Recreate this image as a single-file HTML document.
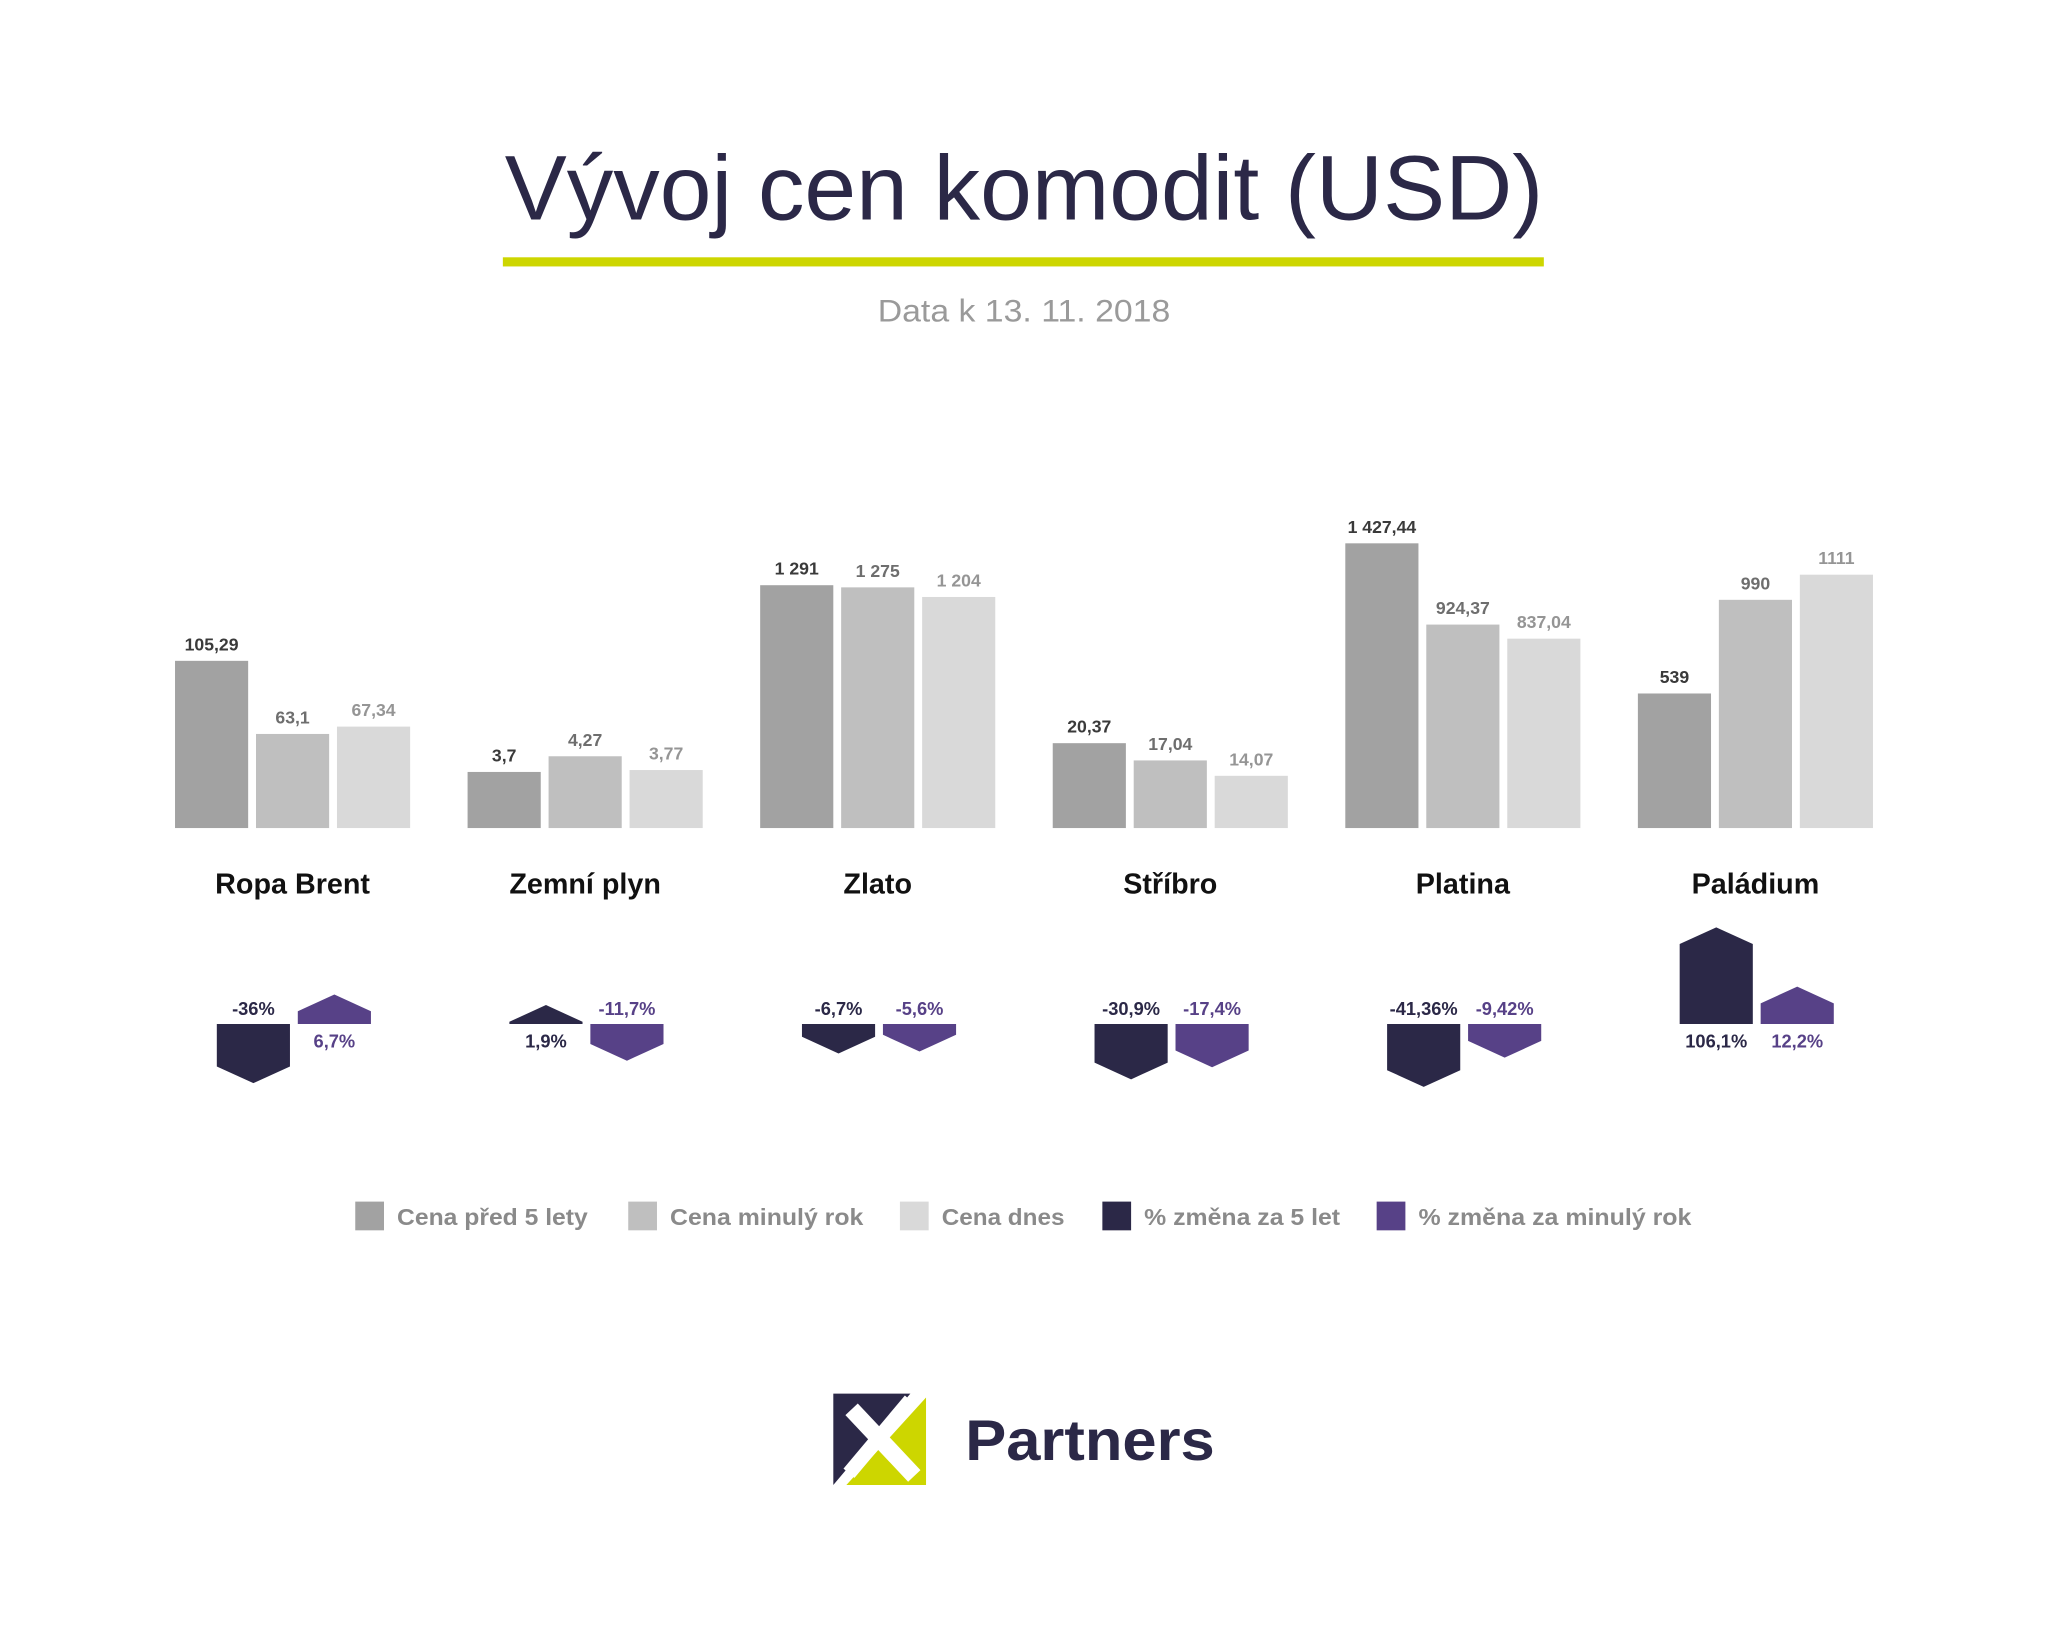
<!DOCTYPE html>
<html><head><meta charset="utf-8">
<style>
html,body{margin:0;padding:0;background:#fff;}
svg{display:block;font-family:"Liberation Sans","DejaVu Sans",sans-serif;}
</style></head>
<body>
<svg id="chart" width="2048" height="1630" viewBox="0 0 1568 1248" preserveAspectRatio="none" xmlns="http://www.w3.org/2000/svg">
<rect x="0" y="0" width="1568" height="1248" fill="#fff"/>
<text x="784" y="168" text-anchor="middle" font-size="70" fill="#2b2847" textLength="795" lengthAdjust="spacingAndGlyphs">Vývoj cen komodit (USD)</text>
<rect x="385" y="197" width="797" height="7" fill="#cdd600"/>
<text x="784" y="246" text-anchor="middle" font-size="24" fill="#9a9a9a" textLength="224" lengthAdjust="spacingAndGlyphs">Data k 13. 11. 2018</text>
<g id="bars"></g>
<g id="arrows"></g>
<g id="legend"></g>
<g>
  <rect x="638" y="1067" width="71" height="70" fill="#fff"/>
  <polygon points="638,1067 697,1067 638,1137" fill="#2b2847"/>
  <polygon points="709,1070 709,1137 648,1137" fill="#cdd600"/>
  <line x1="652" y1="1079" x2="700" y2="1130" stroke="#fff" stroke-width="13"/>
  <line x1="697" y1="1072" x2="650" y2="1128" stroke="#fff" stroke-width="11"/>
  <text x="739" y="1118" font-size="44" font-weight="bold" fill="#2b2847" textLength="191" lengthAdjust="spacingAndGlyphs">Partners</text>
</g>
</svg>
<script>
const categories = ["Ropa Brent","Zemní plyn","Zlato","Stříbro","Platina","Paládium"];
const price5y = [105.29, 3.7, 1291, 20.37, 1427.44, 539];
const priceLastYear = [63.1, 4.27, 1275, 17.04, 924.37, 990];
const priceToday = [67.34, 3.77, 1204, 14.07, 837.04, 1111];
const price5yLabels = ["105,29","3,7","1 291","20,37","1 427,44","539"];
const priceLastYearLabels = ["63,1","4,27","1 275","17,04","924,37","990"];
const priceTodayLabels = ["67,34","3,77","1 204","14,07","837,04","1111"];
const domainLow = [8.8, 1.66, -507, 3.99, -335.6, -109];
const domainHigh = [173.1, 12.01, 1601, 58.93, 1427.4, 1262];
const change5y = [-36, 1.9, -6.7, -30.9, -41.36, 106.1];
const changeYear = [6.7, -11.7, -5.6, -17.4, -9.42, 12.2];
const change5yLabels = ["-36%","1,9%","-6,7%","-30,9%","-41,36%","106,1%"];
const changeYearLabels = ["6,7%","-11,7%","-5,6%","-17,4%","-9,42%","12,2%"];
const legendLabels = ["Cena před 5 lety","Cena minulý rok","Cena dnes","% změna za 5 let","% změna za minulý rok"];

const NS="http://www.w3.org/2000/svg";
const baseY=634, barW=56, H=218, groupStart=134, groupStep=224, barStep=62, arrowBase=784;
const barColors=["#a2a2a2","#bfbfbf","#d9d9d9"];
const labelColors=["#3a3a3a","#6e6e6e","#959595"];
const arrowColors=["#2b2847","#574187"];
function mk(tag,attrs,parent){const e=document.createElementNS(NS,tag);for(const k in attrs)e.setAttribute(k,attrs[k]);parent.appendChild(e);return e;}
function yH(g,v){return (v-domainLow[g])/(domainHigh[g]-domainLow[g])*H;}
function arrowLen(v){return 5.3+6.67*Math.sqrt(Math.abs(v));}
const barsG=document.getElementById('bars'), arrowsG=document.getElementById('arrows');
const series=[price5y,priceLastYear,priceToday], seriesLabels=[price5yLabels,priceLastYearLabels,priceTodayLabels];
const seriesNames=["price-5y","price-last-year","price-today"];
categories.forEach((c,g)=>{
  const gx=groupStart+g*groupStep;
  series.forEach((s,i)=>{
    const h=yH(g,s[g]), x=gx+i*barStep;
    const r=mk('rect',{x:x,y:baseY-h,width:barW,height:h,fill:barColors[i]},barsG);
    
    
    const t=mk('text',{x:x+barW/2,y:baseY-h-8,'text-anchor':'middle','font-size':13.5,'font-weight':'bold',fill:labelColors[i]},barsG);
    t.textContent=seriesLabels[i][g];
    
    
  });
  const cl=mk('text',{x:gx+barStep+barW/2,y:684,'text-anchor':'middle','font-size':22,'font-weight':'bold',fill:'#111'},barsG);
  cl.textContent=c;
  
  
  [change5y,changeYear].forEach((arr,i)=>{
    const v=arr[g], L=arrowLen(v), x=gx+32+i*barStep, cx=x+barW/2, tri=12.8;
    const dir=v<0?1:-1;
    const rectEnd=arrowBase+dir*Math.max(0,L-tri), tip=arrowBase+dir*L;
    const p=mk('polygon',{points:`${x},${arrowBase} ${x+barW},${arrowBase} ${x+barW},${rectEnd} ${cx},${tip} ${x},${rectEnd}`,fill:arrowColors[i]},arrowsG);
    
    
    const t=mk('text',{x:cx,y:v<0?arrowBase-7:arrowBase+18,'text-anchor':'middle','font-size':14,'font-weight':'bold',fill:arrowColors[i]},arrowsG);
    t.textContent=(i===0?change5yLabels:changeYearLabels)[g];
    
    
  });
});
const legendG=document.getElementById('legend');
const legendX=[272,481,689,844,1054];
const legendColors=["#a2a2a2","#bfbfbf","#d9d9d9","#2b2847","#574187"];
const legendW=[146,148,94,150,209];
legendLabels.forEach((l,i)=>{
  const s=mk('rect',{x:legendX[i],y:920,width:22,height:22,fill:legendColors[i]},legendG);
  
  
  const t=mk('text',{x:legendX[i]+32,y:938,'font-size':18,'font-weight':'bold',fill:'#8a8a8a',textLength:legendW[i],lengthAdjust:'spacingAndGlyphs'},legendG);
  t.textContent=l;
  
  
});
</script>
</body></html>
